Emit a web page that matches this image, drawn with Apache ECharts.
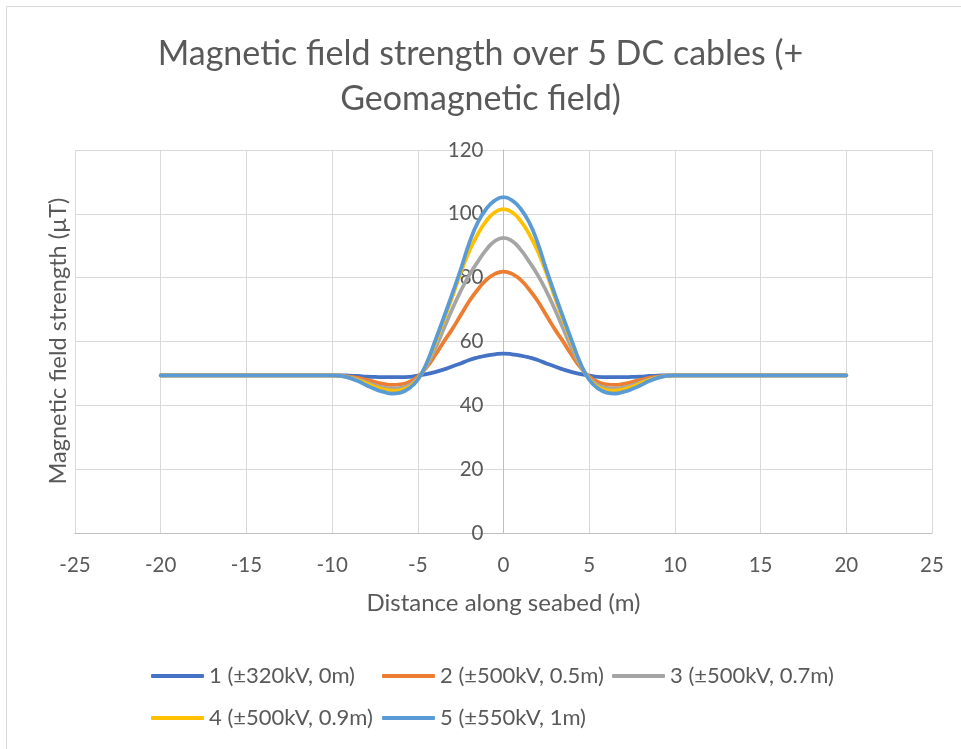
<!DOCTYPE html>
<html>
<head>
<meta charset="utf-8">
<script src="https://cdn.jsdelivr.net/npm/echarts@6/dist/echarts.min.js"></script>
<style>
  html, body { margin: 0; padding: 0; background: #ffffff; }
  #chart { width: 961px; height: 749px; }
</style>
</head>
<body>
<div id="chart"></div>
<script>
// Distance along the seabed (m) at which the field was evaluated
const distance = [-20, -15, -10, -9.5, -9, -8.5, -8, -7.5, -7, -6.5, -6, -5.5, -5, -4.5, -4, -3.5, -3, -2.5, -2, -1.5, -1, -0.5,
  0, 0.5, 1, 1.5, 2, 2.5, 3, 3.5, 4, 4.5, 5, 5.5, 6, 6.5, 7, 7.5, 8, 8.5, 9, 9.5, 10, 15, 20];

// Magnetic field strength (µT) for each cable configuration
const cable1 = [49.4, 49.4, 49.4, 49.4, 49.3, 49.2, 49.0, 48.9, 48.8, 48.8, 48.8, 48.9, 49.3, 49.8, 50.4, 51.2, 52.2, 53.1, 54.2, 55.0, 55.6, 56.0,
  56.2, 56.0, 55.6, 55.0, 54.2, 53.1, 52.2, 51.2, 50.4, 49.8, 49.3, 48.9, 48.8, 48.8, 48.8, 48.9, 49.0, 49.2, 49.3, 49.4, 49.4, 49.4, 49.4];
const cable2 = [49.4, 49.4, 49.4, 49.3, 49.0, 48.6, 48.0, 47.3, 46.7, 46.4, 46.6, 47.3, 49.0, 51.8, 55.6, 59.8, 63.8, 68.2, 72.6, 76.3, 79.3, 81.2,
  81.9, 81.2, 79.3, 76.3, 72.6, 68.2, 63.8, 59.8, 55.6, 51.8, 49.0, 47.3, 46.6, 46.4, 46.7, 47.3, 48.0, 48.6, 49.0, 49.3, 49.4, 49.4, 49.4];
const cable3 = [49.4, 49.4, 49.4, 49.2, 48.8, 48.1, 47.2, 46.3, 45.6, 45.3, 45.5, 46.3, 48.5, 52.3, 57.6, 63.8, 70.0, 75.8, 80.8, 85.0, 88.8, 91.5,
  92.5, 91.5, 88.8, 85.0, 80.8, 75.8, 70.0, 63.8, 57.6, 52.3, 48.5, 46.3, 45.5, 45.3, 45.6, 46.3, 47.2, 48.1, 48.8, 49.2, 49.4, 49.4, 49.4];
const cable4 = [49.4, 49.4, 49.4, 49.2, 48.7, 47.9, 46.9, 45.8, 45.0, 44.6, 44.8, 45.8, 48.2, 52.8, 59.3, 66.5, 73.8, 81.5, 88.3, 93.6, 97.8, 100.5,
  101.5, 100.5, 97.8, 93.6, 88.3, 81.5, 73.8, 66.5, 59.3, 52.8, 48.2, 45.8, 44.8, 44.6, 45.0, 45.8, 46.9, 47.9, 48.7, 49.2, 49.4, 49.4, 49.4];
const cable5 = [49.4, 49.4, 49.4, 49.2, 48.6, 47.6, 46.3, 45.1, 44.2, 43.7, 44.0, 45.3, 48.0, 53.0, 60.0, 67.3, 74.8, 82.5, 90.8, 97.3, 101.6, 104.2,
  105.2, 104.2, 101.6, 97.3, 90.8, 82.5, 74.8, 67.3, 60.0, 53.0, 48.0, 45.3, 44.0, 43.7, 44.2, 45.1, 46.3, 47.6, 48.6, 49.2, 49.4, 49.4, 49.4];

const seriesNames = ['1 (±320kV, 0m)', '2 (±500kV, 0.5m)', '3 (±500kV, 0.7m)', '4 (±500kV, 0.9m)', '5 (±550kV, 1m)'];
const seriesValues = [cable1, cable2, cable3, cable4, cable5];
const seriesColors = ['#4472C4', '#ED7D31', '#A5A5A5', '#FFC000', '#5B9BD5'];

// Axis ranges and tick steps
const xRange = [-25, 25], xStep = 5;
const yRange = [0, 120], yStep = 20;

const FONT = 'Lato, "Open Sans", sans-serif';
const TEXT = '#595959';

// Plot area in pixels
const GRID = { left: 75, right: 29, top: 150, bottom: 216 };
const plotWidth = 961 - GRID.left - GRID.right;
// The value axis crosses the horizontal axis at distance 0
const yAxisShift = -plotWidth * (0 - xRange[0]) / (xRange[1] - xRange[0]);

// Legend laid out in fixed columns, two rows
const legendSlots = [
  { left: 151, top: 665 }, { left: 382, top: 665 }, { left: 612, top: 665 },
  { left: 151, top: 707 }, { left: 382, top: 707 }
];

const chart = echarts.init(document.getElementById('chart'), null, { renderer: 'canvas' });

const option = {
  backgroundColor: '#ffffff',
  animation: false,
  title: {
    text: 'Magnetic field strength over 5 DC cables (+\nGeomagnetic field)',
    left: 'center',
    top: 27,
    textStyle: { fontFamily: FONT, fontSize: 34, fontWeight: 'normal', color: TEXT, lineHeight: 45 }
  },
  grid: Object.assign({ containLabel: false }, GRID),
  xAxis: {
    type: 'value',
    min: xRange[0], max: xRange[1], interval: xStep,
    name: 'Distance along seabed (m)',
    nameLocation: 'middle',
    nameGap: 58,
    nameTextStyle: { fontFamily: FONT, fontSize: 24, color: TEXT },
    axisLine: { show: true, onZero: false, lineStyle: { color: '#bfbfbf', width: 1 } },
    axisTick: { show: false },
    axisLabel: { fontFamily: FONT, fontSize: 20.5, color: TEXT, margin: 22 },
    splitLine: { show: true, lineStyle: { color: '#d9d9d9', width: 1 } }
  },
  yAxis: {
    type: 'value',
    min: yRange[0], max: yRange[1], interval: yStep,
    position: 'left',
    offset: yAxisShift,
    axisLine: { show: true, onZero: false, lineStyle: { color: '#bfbfbf', width: 1 } },
    axisTick: { show: false },
    axisLabel: { fontFamily: FONT, fontSize: 20.5, color: TEXT, margin: 20 },
    splitLine: { show: true, lineStyle: { color: '#d9d9d9', width: 1 } }
  },
  legend: seriesNames.map((name, i) => ({
    data: [name],
    left: legendSlots[i].left,
    top: legendSlots[i].top,
    padding: 0,
    icon: 'roundRect',
    itemWidth: 53,
    itemHeight: 4,
    textStyle: { fontFamily: FONT, fontSize: 22, color: TEXT },
    selectedMode: false
  })),
  graphic: [
    {
      type: 'rect',
      silent: true,
      shape: { x: 6.5, y: 6.5, width: 1200, height: 1200 },
      style: { fill: 'none', stroke: '#d9d9d9', lineWidth: 1 },
      z: -10
    },
    {
      type: 'text',
      silent: true,
      x: 58, y: 341,
      rotation: Math.PI / 2,
      style: {
        text: 'Magnetic field strength (µT)',
        fontFamily: FONT, fontSize: 23.5, fill: TEXT,
        align: 'center', verticalAlign: 'middle'
      }
    }
  ],
  series: seriesNames.map((name, i) => ({
    name,
    type: 'line',
    data: distance.map((d, k) => [d, seriesValues[i][k]]),
    smooth: 0.5,
    symbol: 'none',
    lineStyle: { color: seriesColors[i], width: 3.75, cap: 'round', join: 'round' },
    itemStyle: { color: seriesColors[i] },
    z: 2 + i
  }))
};

chart.setOption(option);
</script>
</body>
</html>
